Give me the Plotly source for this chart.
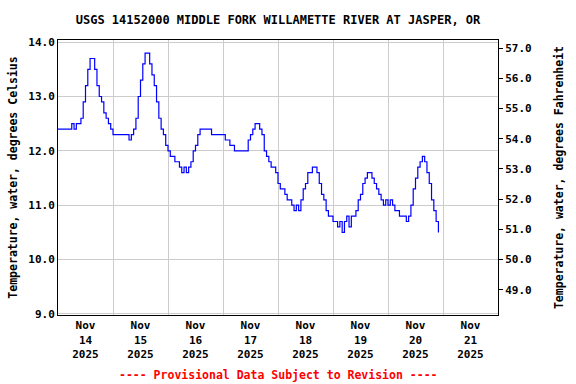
import pandas as pd
import plotly.graph_objects as go

# Hourly water temperature (deg C), starting 2025-11-14 00:00
start_time = "2025-11-14 00:00"
temp_c = [
    # Nov 14
    12.4, 12.4, 12.4, 12.4, 12.4, 12.4, 12.5, 12.4, 12.5, 12.5, 12.6, 12.9,
    13.2, 13.5, 13.7, 13.7, 13.5, 13.2, 13.0, 12.9, 12.7, 12.6, 12.5, 12.4,
    # Nov 15
    12.3, 12.3, 12.3, 12.3, 12.3, 12.3, 12.3, 12.2, 12.3, 12.4, 12.6, 13.0,
    13.3, 13.6, 13.8, 13.8, 13.6, 13.4, 13.2, 12.9, 12.6, 12.4, 12.3, 12.1,
    # Nov 16
    12.0, 11.9, 11.9, 11.8, 11.8, 11.7, 11.6, 11.7, 11.6, 11.7, 11.8, 12.0,
    12.1, 12.3, 12.4, 12.4, 12.4, 12.4, 12.4, 12.3, 12.3, 12.3, 12.3, 12.3,
    # Nov 17
    12.3, 12.2, 12.2, 12.1, 12.1, 12.0, 12.0, 12.0, 12.0, 12.0, 12.0, 12.2,
    12.3, 12.4, 12.5, 12.5, 12.4, 12.3, 12.0, 11.9, 11.8, 11.7, 11.7, 11.6,
    # Nov 18
    11.4, 11.3, 11.3, 11.2, 11.1, 11.1, 11.0, 10.9, 11.0, 10.9, 11.1, 11.3,
    11.4, 11.6, 11.6, 11.7, 11.7, 11.6, 11.4, 11.2, 11.1, 10.9, 10.8, 10.8,
    # Nov 19
    10.7, 10.7, 10.6, 10.7, 10.5, 10.7, 10.8, 10.6, 10.8, 10.8, 10.9, 11.1,
    11.2, 11.4, 11.5, 11.6, 11.6, 11.5, 11.4, 11.3, 11.2, 11.1, 11.0, 11.1,
    # Nov 20
    11.0, 11.1, 11.0, 10.9, 10.9, 10.8, 10.8, 10.8, 10.7, 10.8, 11.0, 11.3,
    11.5, 11.7, 11.8, 11.9, 11.8, 11.6, 11.4, 11.1, 10.9, 10.7, 10.5,
]

times = pd.date_range(start_time, periods=len(temp_c), freq="h")
temp_f = [c * 1.8 + 32 for c in temp_c]

title_text = "USGS 14152000 MIDDLE FORK WILLAMETTE RIVER AT JASPER, OR"
left_title = "Temperature, water, degrees Celsius"
right_title = "Temperature, water, degrees Fahrenheit"
footer_text = "---- Provisional Data Subject to Revision ----"

c_range = [8.98, 14.04]
f_range = [c * 1.8 + 32 for c in c_range]

mono = "DejaVu Sans Mono"
fig = go.Figure()
fig.add_trace(go.Scatter(x=times, y=temp_c, mode="lines", line=dict(color="#0000FF", width=1.2, shape="hv"),
                         showlegend=False, hoverinfo="skip"))
fig.add_trace(go.Scatter(x=times, y=temp_f, mode="lines", yaxis="y2", opacity=0,
                         line=dict(color="#0000FF", width=1), showlegend=False, hoverinfo="skip"))

fig.update_layout(
    width=576, height=384,
    margin=dict(l=58, r=78, t=40, b=69),
    plot_bgcolor="white", paper_bgcolor="white",
    title=dict(text=title_text, x=0.5, xref="paper", y=1 - 20 / 384, yanchor="middle",
               font=dict(family=mono, size=12, color="black", weight="bold")),
    xaxis=dict(
        range=["2025-11-14 00:00", "2025-11-22 00:00"],
        tick0="2025-11-14", dtick=86400000, ticklabelmode="period",
        tickformat="%b<br>%d<br>%Y", ticks="",
        showgrid=True, gridcolor="#cccccc", gridwidth=1,
        showline=True, linecolor="black", linewidth=1, mirror=True,
        tickfont=dict(family=mono, size=11, color="black", weight="bold"),
        zeroline=False,
    ),
    yaxis=dict(
        range=c_range, dtick=1, tick0=9, tickformat=".1f", ticks="",
        showgrid=True, gridcolor="#cccccc", gridwidth=1,
        showline=True, linecolor="black", linewidth=1,
        tickfont=dict(family=mono, size=11, color="black", weight="bold"),
        title=dict(text=left_title, font=dict(family=mono, size=11.5, color="black", weight="bold"), standoff=8),
        zeroline=False,
    ),
    yaxis2=dict(
        range=f_range, dtick=1, tick0=49, tickformat=".1f", ticks="outside", ticklen=4,
        tickcolor="black", overlaying="y", side="right", showgrid=False,
        showline=True, linecolor="black", linewidth=1,
        tickfont=dict(family=mono, size=11, color="black", weight="bold"),
        title=dict(text=right_title, font=dict(family=mono, size=11.5, color="black", weight="bold"), standoff=24),
        zeroline=False,
    ),
    annotations=[dict(text=footer_text, xref="paper", yref="paper", x=0.5, y=-(375 - 315) / 275,
                      yanchor="middle", xanchor="center", showarrow=False,
                      font=dict(family=mono, size=11.5, color="red", weight="bold"))],
)

fig.write_html("out.html", config={"displayModeBar": False})

# remove the browser's default page margin so the figure sits at the window's top-left corner
with open("out.html", "r", encoding="utf-8") as fh:
    html = fh.read()
html = html.replace("<body>", '<body style="margin:0;padding:0;overflow:hidden">', 1)
with open("out.html", "w", encoding="utf-8") as fh:
    fh.write(html)
